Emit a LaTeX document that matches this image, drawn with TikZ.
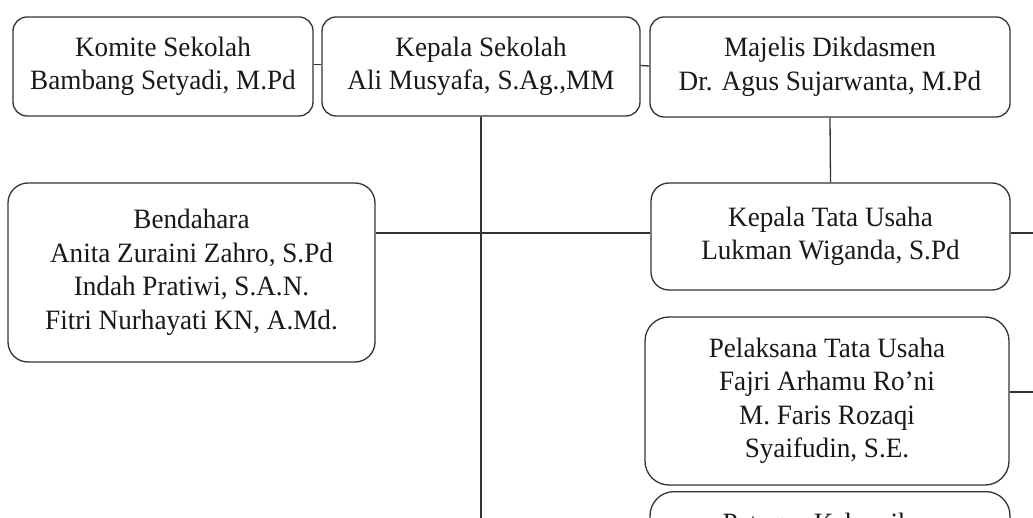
\documentclass[tikz,border=0pt]{standalone}
\usepackage{fontspec}
\setmainfont{Liberation Serif}[FakeStretch=0.97]
\begin{document}
\begin{tikzpicture}[x=1pt,y=-1pt,
  box/.style={draw=black!80, line width=1.3pt, rounded corners=#1, align=center,
    inner sep=0pt, font=\fontsize{28}{33.5}\selectfont, text=black!90},
  box/.default=14pt,
  link/.style={draw=black!80, line width=1.3pt}]
\useasboundingbox[fill=white] (0,0) rectangle (1033,518);
\node[box, minimum width=300pt, minimum height=99pt] (komite) at (163,66.5) {Komite Sekolah\\Bambang Setyadi, M.Pd};
\node[box, minimum width=318pt, minimum height=99pt] (kepala) at (481,66.5) {Kepala Sekolah\\Ali Musyafa, S.Ag.,MM};
\node[box, minimum width=360pt, minimum height=100pt] (majelis) at (830,67) {Majelis Dikdasmen\\Dr. Agus Sujarwanta, M.Pd};
\node[box=20pt, minimum width=367pt, minimum height=179pt] (bendahara) at (191.5,272.5) {Bendahara\\Anita Zuraini Zahro, S.Pd\\Indah Pratiwi, S.A.N.\\Fitri Nurhayati KN, A.Md.};
\node[box=18pt, minimum width=359pt, minimum height=107pt] (ktu) at (830.5,236.5) {Kepala Tata Usaha\\Lukman Wiganda, S.Pd};
\node[box=24pt, minimum width=364pt, minimum height=168pt] (pelaksana) at (827,401) {Pelaksana Tata Usaha\\Fajri Arhamu Ro’ni\\M. Faris Rozaqi\\Syaifudin, S.E.};
\node[box=24pt, minimum width=360pt, minimum height=120pt, anchor=north] (petugas) at (830,491) {};
\node[anchor=base, font=\fontsize{28}{33.5}\selectfont, text=black!90, inner sep=0pt] (petugastext) at (830,532) {Petugas Kebersihan};
\coordinate (bottom) at (481,518);
\coordinate (edgeA) at (1033,233);
\coordinate (edgeB) at (1033,392);
\draw[link] ([yshift=2pt]komite.east) -- ([yshift=2pt]kepala.west);
\draw[link] ([yshift=1pt]kepala.east) -- ([yshift=1pt]majelis.west);
\draw[link] (kepala.south) -- (bottom);
\draw[link] (majelis.south) -- (ktu.north);
\draw[link] ([yshift=3.5pt]ktu.west) -- ([yshift=3.5pt]ktu.west -| bendahara.east);
\draw[link] ([yshift=3.5pt]ktu.east) -- (edgeA);
\draw[link] ([yshift=9pt]pelaksana.east) -- (edgeB);
\end{tikzpicture}
\end{document}
